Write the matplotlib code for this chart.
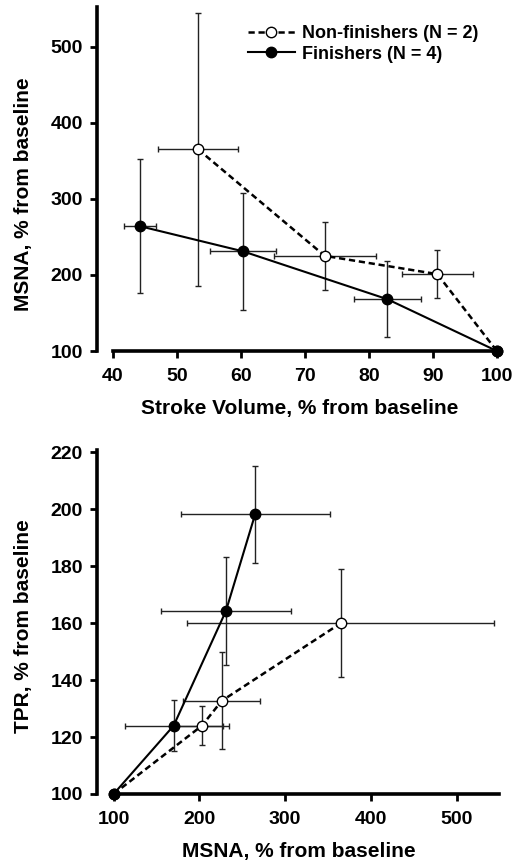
import matplotlib.pyplot as plt
from matplotlib.lines import Line2D

plt.rcParams['font.family'] = ['Liberation Sans', 'DejaVu Sans']
plt.rcParams['font.weight'] = 'bold'

# Top panel: stroke volume vs MSNA (% from baseline)
sv_non = [53.3, 73.1, 90.7, 100]
sv_non_err = [6.2, 8.0, 5.6, 0]
msna_non = [365, 225, 201, 100]
msna_non_err = [179, 45, 32, 0]

sv_fin = [44.2, 60.3, 82.9, 100]
sv_fin_err = [2.5, 5.1, 5.2, 0]
msna_fin = [264, 231, 168, 100]
msna_fin_err = [88, 77, 50, 0]

# Bottom panel: MSNA vs TPR (% from baseline)
msna2_non = [100, 203, 226, 365]
msna2_non_err = [0, 32, 45, 179]
tpr_non = [100, 124, 132.7, 160]
tpr_non_err = [0, 6.8, 17, 19]

msna2_fin = [100, 170, 231, 265]
msna2_fin_err = [0, 57, 76, 87]
tpr_fin = [100, 124, 164.3, 198.2]
tpr_fin_err = [0, 9, 19, 17]

labels = ['Non-finishers (N = 2)', 'Finishers (N = 4)']

fig = plt.figure(figsize=(5.2, 8.65), dpi=100)
ax1 = fig.add_axes([97 / 520, 1 - 351 / 865, 405 / 520, 344 / 865])
ax2 = fig.add_axes([97 / 520, 1 - 794 / 865, 403 / 520, 344 / 865])

ebar = dict(fmt='none', ecolor='#222222', elinewidth=1.0, capsize=2.5, capthick=1.0, clip_on=False)
non_style = dict(color='black', lw=1.8, ls=(0, (2.5, 1.5)), marker='o', ms=7.5,
                 mfc='white', mec='black', mew=1.0, clip_on=False, zorder=4)
fin_style = dict(color='black', lw=1.5, ls='-', marker='o', ms=7.5,
                 mfc='black', mec='black', clip_on=False, zorder=5)


def style_axes(ax, xbounds, ylab_y):
    for s in ['top', 'right']:
        ax.spines[s].set_visible(False)
    for s in ['left', 'bottom']:
        ax.spines[s].set_linewidth(2.6)
    ax.spines['bottom'].set_bounds(*xbounds)
    ax.tick_params(direction='out', length=5, width=2.0, labelsize=14, pad=5)
    ax.tick_params(axis='x', pad=7)
    for lab in ax.get_xticklabels() + ax.get_yticklabels():
        lab.set_fontweight('bold')
    ax.yaxis.set_label_coords(-0.158, ylab_y)
    ax.xaxis.set_label_coords(0.5, -0.14)


# top
ax1.errorbar(sv_non, msna_non, xerr=sv_non_err, yerr=msna_non_err, **ebar)
ax1.errorbar(sv_fin, msna_fin, xerr=sv_fin_err, yerr=msna_fin_err, **ebar)
ax1.plot(sv_non, msna_non, **non_style)
ax1.plot(sv_fin, msna_fin, **fin_style)
ax1.set_xlim(37.5, 100.8)
ax1.set_ylim(100, 552)
ax1.set_xticks([40, 50, 60, 70, 80, 90, 100])
ax1.set_yticks([100, 200, 300, 400, 500])
ax1.set_xlabel('Stroke Volume, % from baseline', fontsize=15, fontweight='bold')
ax1.set_ylabel('MSNA, % from baseline', fontsize=15, fontweight='bold')
style_axes(ax1, (40, 100.7), 0.455)

handles = [Line2D([], [], **{k: v for k, v in non_style.items() if k not in ('clip_on', 'zorder')}),
           Line2D([], [], **{k: v for k, v in fin_style.items() if k not in ('clip_on', 'zorder')})]
ax1.legend(handles, labels, loc='upper left', bbox_to_anchor=(248 / 520, 1 - 25 / 865),
           bbox_transform=fig.transFigure, frameon=False, borderpad=0, borderaxespad=0,
           prop={'weight': 'bold', 'size': 13}, handlelength=2.6, handletextpad=0.4,
           labelspacing=0.2)

# bottom
ax2.errorbar(msna2_non, tpr_non, xerr=msna2_non_err, yerr=tpr_non_err, **ebar)
ax2.errorbar(msna2_fin, tpr_fin, xerr=msna2_fin_err, yerr=tpr_fin_err, **ebar)
ax2.plot(msna2_non, tpr_non, **non_style)
ax2.plot(msna2_fin, tpr_fin, **fin_style)
ax2.set_xlim(80.6, 550.6)
ax2.set_ylim(100, 220.8)
ax2.set_xticks([100, 200, 300, 400, 500])
ax2.set_yticks([100, 120, 140, 160, 180, 200, 220])
ax2.set_xlabel('MSNA, % from baseline', fontsize=15, fontweight='bold')
ax2.set_ylabel('TPR, % from baseline', fontsize=15, fontweight='bold')
style_axes(ax2, (100, 550), 0.487)

fig.savefig('out.png', dpi=100)
